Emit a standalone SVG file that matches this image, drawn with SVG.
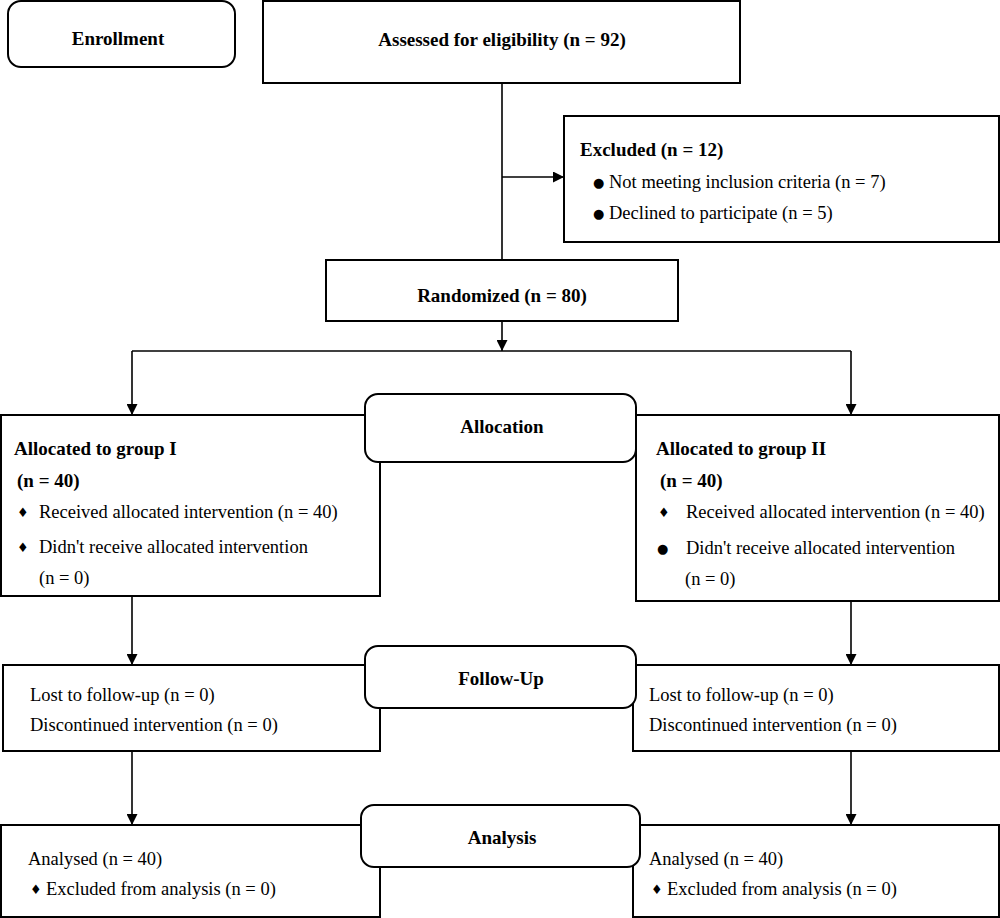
<svg xmlns="http://www.w3.org/2000/svg" width="1000" height="918" viewBox="0 0 1000 918">
<defs>
<marker id="ah" viewBox="0 0 10 10" refX="10" refY="5" markerWidth="11" markerHeight="11" markerUnits="userSpaceOnUse" orient="auto">
<path d="M0,0 L10,5 L0,10 z" fill="#000"/>
</marker>
<style>
.box{fill:#fff;stroke:#000;stroke-width:2}
.t{font-family:"Liberation Serif","Times New Roman",serif;font-size:18.5px;fill:#000}
.b{font-weight:bold;font-size:19px}
.c{text-anchor:middle}
.bul{font-family:"DejaVu Sans",sans-serif;font-size:13px;fill:#000}
.ln{fill:none;stroke:#000;stroke-width:1.6}
</style>
</defs>
<rect width="1000" height="918" fill="#fff"/>
<g id="connectors">
<path class="ln" d="M502,83 V260"/>
<path class="ln" d="M502,177 H564" marker-end="url(#ah)"/>
<path class="ln" d="M502,321 V351" marker-end="url(#ah)"/>
<path class="ln" d="M132,351 H851"/>
<path class="ln" d="M132,351 V415" marker-end="url(#ah)"/>
<path class="ln" d="M851,351 V415" marker-end="url(#ah)"/>
<path class="ln" d="M132,596 V665" marker-end="url(#ah)"/>
<path class="ln" d="M851,601 V665" marker-end="url(#ah)"/>
<path class="ln" d="M132,751 V825" marker-end="url(#ah)"/>
<path class="ln" d="M851,751 V825" marker-end="url(#ah)"/>
</g>
<g id="enrollment">
<rect class="box" x="8" y="1" width="227" height="66" rx="13"/>
<text class="t b c" x="118" y="45">Enrollment</text>
</g>
<g id="assessed">
<rect class="box" x="263" y="1" width="477" height="82"/>
<text class="t b c" x="502" y="46">Assessed for eligibility (n = 92)</text>
</g>
<g id="excluded">
<rect class="box" x="564" y="116" width="435" height="126"/>
<text class="t b" x="580" y="156">Excluded (n = 12)</text>
<text class="bul" x="593" y="187">●</text>
<text class="t" x="609" y="188">Not meeting inclusion criteria (n = 7)</text>
<text class="bul" x="593" y="218">●</text>
<text class="t" x="609" y="219">Declined to participate (n = 5)</text>
</g>
<g id="randomized">
<rect class="box" x="326" y="260" width="352" height="61"/>
<text class="t b c" x="502" y="302">Randomized (n = 80)</text>
</g>
<g id="group1">
<rect class="box" x="1" y="415" width="379" height="181"/>
<text class="t b" x="14" y="455">Allocated to group I</text>
<text class="t b" x="17" y="487">(n = 40)</text>
<text class="bul" x="17" y="517">♦</text>
<text class="t" x="39" y="518">Received allocated intervention (n = 40)</text>
<text class="bul" x="17" y="552">♦</text>
<text class="t" x="39" y="553">Didn't receive allocated intervention</text>
<text class="t" x="39" y="584">(n = 0)</text>
</g>
<g id="group2">
<rect class="box" x="636" y="415" width="363" height="186"/>
<text class="t b" x="656" y="455">Allocated to group II</text>
<text class="t b" x="660" y="487">(n = 40)</text>
<text class="bul" x="658" y="517">♦</text>
<text class="t" x="686" y="518">Received allocated intervention (n = 40)</text>
<text class="bul" x="657" y="553">●</text>
<text class="t" x="686" y="554">Didn't receive allocated intervention</text>
<text class="t" x="685" y="585">(n = 0)</text>
</g>
<g id="allocation">
<rect class="box" x="365" y="394" width="271" height="68" rx="13"/>
<text class="t b c" x="502" y="433">Allocation</text>
</g>
<g id="followup1">
<rect class="box" x="3" y="665" width="377" height="86"/>
<text class="t" x="30" y="701">Lost to follow-up (n = 0)</text>
<text class="t" x="30" y="731">Discontinued intervention (n = 0)</text>
</g>
<g id="followup2">
<rect class="box" x="633" y="665" width="366" height="86"/>
<text class="t" x="649" y="701">Lost to follow-up (n = 0)</text>
<text class="t" x="649" y="731">Discontinued intervention (n = 0)</text>
</g>
<g id="followup">
<rect class="box" x="365" y="646" width="271" height="62" rx="13"/>
<text class="t b c" x="501" y="685">Follow-Up</text>
</g>
<g id="analysis1">
<rect class="box" x="1" y="825" width="379" height="92"/>
<text class="t" x="28" y="865">Analysed (n = 40)</text>
<text class="bul" x="30" y="894">♦</text>
<text class="t" x="46" y="895">Excluded from analysis (n = 0)</text>
</g>
<g id="analysis2">
<rect class="box" x="633" y="825" width="366" height="92"/>
<text class="t" x="649" y="865">Analysed (n = 40)</text>
<text class="bul" x="651" y="894">♦</text>
<text class="t" x="667" y="895">Excluded from analysis (n = 0)</text>
</g>
<g id="analysis">
<rect class="box" x="361" y="805" width="279" height="62" rx="13"/>
<text class="t b c" x="502" y="844">Analysis</text>
</g>
</svg>
